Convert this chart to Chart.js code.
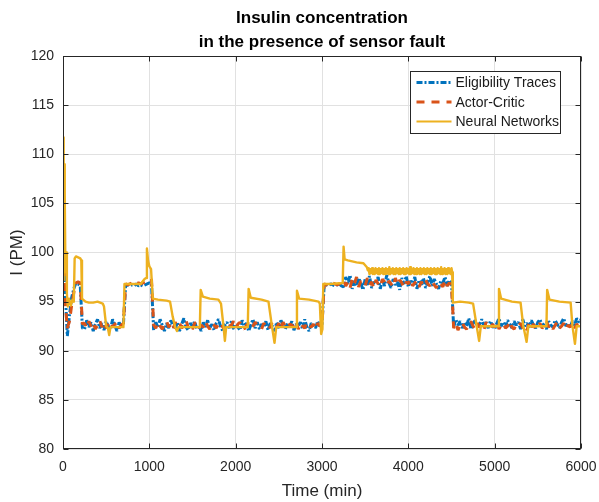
<!DOCTYPE html>
<html>
<head>
<meta charset="utf-8">
<title>Insulin concentration</title>
<script src="https://cdn.jsdelivr.net/npm/chart.js@4.4.0/dist/chart.umd.min.js"></script>
<style>
    html, body { margin: 0; padding: 0; background: #fff; }
    #wrap { width: 599px; height: 502px; }
</style>
</head>
<body>
<div id="wrap"><canvas id="insulin_chart" width="599" height="502"></canvas></div>
<script>
const chartTitle = ['Insulin concentration', 'in the presence of sensor fault'];
const xAxisTitle = 'Time (min)';
const yAxisTitle = 'I (PM)';
const xTickValues = [0, 1000, 2000, 3000, 4000, 5000, 6000];
const yTickValues = [80, 85, 90, 95, 100, 105, 110, 115, 120];
const seriesNames = ['Eligibility Traces', 'Actor-Critic', 'Neural Networks'];

// blue + orange are sampled every 25 min (0 .. 6000)
const sampleTime = [];
for (let i = 0; i <= 240; i++) sampleTime.push(i * 25);

const eligibilityTraces = [
    108.6, 96.2, 91.5, 93.6, 95.4, 96.3, 96.9, 96.8, 96.6, 92.3,
    92.2, 93.1, 92.4, 92.9, 92.0, 92.7, 93.2, 92.3, 92.8, 92.1, 93.0, 92.5, 92.2, 93.2, 92.6, 92.0, 92.9, 92.4,
    92.7,
    96.6, 96.7, 96.6, 96.7, 96.6, 96.8, 96.6, 96.7, 96.6, 96.7, 96.8, 96.9,
    96.8,
    92.1, 92.9, 92.4, 93.2, 92.6, 92.0, 92.8, 92.3, 93.1, 92.5,
    92.2, 92.9, 92.0, 92.7, 93.3, 92.4, 92.1, 92.8, 92.5, 93.0,
    92.2, 92.6, 92.0, 92.9, 92.4, 93.1, 92.3, 92.7, 92.1, 92.8,
    93.2, 92.5, 92.0, 92.6, 92.9, 92.3, 93.0, 92.2, 92.7, 92.4,
    92.1, 93.1, 92.5, 92.8, 92.0, 92.6, 93.2, 92.3, 92.9, 92.2,
    92.7, 92.4, 93.0, 92.1, 92.8, 92.5, 92.0, 92.9, 92.3, 93.1,
    92.6, 92.2, 92.8, 92.4, 93.0, 92.1, 92.7, 92.5, 92.9, 92.2,
    93.2, 92.4, 92.0, 92.8, 92.6, 92.3, 93.0, 92.5, 92.7,
    96.6, 96.7, 96.6, 96.8, 96.7, 96.6, 96.7, 96.8, 96.6,
    96.5, 97.5, 96.8, 97.7, 96.3, 97.1, 96.6, 97.4, 96.9, 96.2,
    97.3, 96.7, 97.6, 96.4, 97.0, 96.8, 97.5, 96.3, 97.2, 96.6,
    97.7, 96.9, 96.4, 97.3, 96.7, 97.0, 96.2, 97.4, 96.8, 97.6,
    96.5, 97.1, 96.9, 97.5, 96.3, 97.2, 96.7, 97.4, 96.4, 97.0,
    97.6, 96.6, 97.3, 96.8, 96.3, 97.1, 96.9, 97.5, 96.6, 97.2,
    96.9,
    92.4, 93.2, 92.6, 93.0, 92.3, 92.9, 92.5, 93.3, 92.2, 92.8,
    93.1, 92.4, 92.7, 93.2, 92.5, 92.9, 92.3, 93.0, 92.6, 92.2,
    92.8, 93.3, 92.5, 92.9, 92.4, 93.1, 92.7, 92.3, 93.0, 92.6,
    92.9, 92.2, 93.2, 92.5, 92.8, 92.4, 93.1, 92.6, 92.3, 92.9,
    93.2, 92.5, 92.8, 92.2, 93.0, 92.6, 92.4, 93.1, 92.7, 92.3,
    92.9, 93.3, 92.5, 92.8, 92.4, 93.0, 92.6, 93.3, 92.9, 93.2
];

const actorCritic = [
    109.1, 95.0, 92.3, 93.0, 94.6, 95.9, 96.9, 97.0, 96.9, 92.7,
    92.8, 92.3, 93.0, 92.5, 92.9, 92.2, 92.6, 93.1, 92.4, 92.9, 92.3, 92.8, 93.0, 92.4, 92.7, 92.9, 92.3, 92.6,
    92.8,
    96.8, 96.7, 96.8, 96.9, 96.7, 96.8, 96.9, 96.8, 96.9, 97.0, 97.1, 97.2,
    97.3,
    92.6, 92.3, 92.9, 92.5, 92.2, 92.8, 93.0, 92.4, 92.7, 92.2,
    92.9, 92.5, 92.8, 92.3, 92.6, 93.1, 92.4, 92.7, 92.2, 92.8,
    92.9, 92.3, 92.6, 92.4, 93.0, 92.5, 92.2, 92.8, 92.6, 92.3,
    92.7, 92.9, 92.4, 92.2, 92.8, 92.5, 92.6, 93.0, 92.3, 92.7,
    92.9, 92.4, 92.2, 92.6, 92.8, 92.3, 92.5, 92.9, 92.6, 92.4,
    92.2, 92.8, 92.5, 92.7, 92.3, 93.0, 92.6, 92.4, 92.8, 92.2,
    92.9, 92.5, 92.3, 92.7, 92.6, 92.4, 93.0, 92.2, 92.8, 92.5,
    92.3, 92.9, 92.6, 92.4, 92.7, 92.2, 92.8, 92.5, 92.6,
    96.8, 96.7, 96.8, 96.7, 96.9, 96.8, 96.7, 96.8, 96.9,
    97.2, 96.6, 97.0, 96.4, 97.3, 96.8, 97.5, 96.5, 97.1, 96.9,
    96.6, 97.4, 96.7, 97.0, 96.4, 97.2, 96.8, 96.5, 97.3, 97.0,
    96.6, 97.1, 96.8, 96.5, 97.4, 96.7, 97.2, 96.9, 96.4, 97.0,
    96.8, 97.3, 96.6, 96.9, 97.1, 96.5, 97.0, 96.7, 97.2, 96.8,
    96.6, 97.1, 96.7, 96.4, 97.0, 96.8, 96.5, 97.2, 96.6, 96.9,
    96.7,
    92.3, 92.8, 92.1, 92.6, 92.9, 92.4, 92.2, 92.7, 93.0, 92.5,
    92.2, 92.8, 92.4, 92.6, 92.1, 92.9, 92.5, 92.3, 92.7, 92.4,
    92.9, 92.2, 92.6, 92.8, 92.3, 92.5, 93.0, 92.4, 92.2, 92.7,
    92.5, 92.8, 92.3, 92.6, 92.1, 92.9, 92.4, 92.7, 92.2, 92.6,
    92.8, 92.3, 92.5, 93.0, 92.4, 92.7, 92.2, 92.6, 92.9, 92.3,
    92.5, 92.8, 92.2, 92.6, 92.4, 92.9, 92.3, 92.7, 92.5, 92.6
];

// neural network curve: its own (uneven) time points
const nnTime = [
    0, 5, 10, 14, 18, 22, 28, 35, 45, 55, 70, 90, 110, 125, 135, 150, 200, 212, 220, 260,
    300, 350, 400, 460, 475, 500, 520, 535, 550, 600, 700, 712, 800, 900, 945, 962, 972, 985, 1000, 1020,
    1040, 1100, 1200, 1240, 1270, 1300, 1320, 1340, 1500, 1585, 1595, 1620, 1700, 1800, 1830, 1860, 1875, 1890, 2000, 2140,
    2150, 2175, 2300, 2380, 2420, 2450, 2470, 2600, 2700, 2710, 2735, 2850, 2960, 2975, 2990, 3005, 3015, 3100, 3240, 3250,
    3262, 3300, 3400, 3480, 3520, 3530,
    3540, 3550, 3560, 3570, 3580, 3590, 3600, 3610, 3620, 3630,
    3640, 3650, 3660, 3670, 3680, 3690, 3700, 3710, 3720, 3730,
    3740, 3750, 3760, 3770, 3780, 3790, 3800, 3810, 3820, 3830,
    3840, 3850, 3860, 3870, 3880, 3890, 3900, 3910, 3920, 3930,
    3940, 3950, 3960, 3970, 3980, 3990, 4000, 4010, 4020, 4030,
    4040, 4050, 4060, 4070, 4080, 4090, 4100, 4110, 4120, 4130,
    4140, 4150, 4160, 4170, 4180, 4190, 4200, 4210, 4220, 4230,
    4240, 4250, 4260, 4270, 4280, 4290, 4300, 4310, 4320, 4330,
    4340, 4350, 4360, 4370, 4380, 4390, 4400, 4410, 4420, 4430,
    4440, 4450, 4460, 4470, 4480, 4490, 4500,
    4508, 4515, 4600, 4700, 4750, 4790, 4820, 4840, 5000, 5040, 5050, 5075, 5200, 5300, 5330, 5370, 5390,
    5500, 5600, 5608, 5635, 5750, 5880, 5900, 5930, 5950, 6000
];
const neuralNetworks = [
    97.2, 111.7, 104.0, 109.0, 101.0, 106.0, 98.0, 100.0, 95.8, 94.5, 95.3, 94.6, 95.2, 95.0, 99.4, 99.6, 99.4, 99.2, 95.3, 95.0,
    94.9, 94.9, 95.0, 94.8, 94.5, 92.5, 92.3, 91.6, 92.4, 92.4, 92.4, 96.8, 96.8, 96.8, 97.3, 97.4, 100.4, 99.2, 98.6, 98.3,
    95.3, 95.2, 95.1, 95.0, 93.5, 92.4, 92.0, 92.4, 92.4, 92.4, 96.2, 95.5, 95.3, 95.2, 94.8, 92.4, 91.0, 92.4, 92.4, 92.4,
    96.3, 95.4, 95.2, 95.0, 92.5, 90.8, 92.4, 92.4, 92.4, 96.1, 95.3, 95.2, 95.0, 94.8, 91.7, 92.2, 96.8, 96.8, 96.9, 100.6,
    99.3, 99.2, 99.0, 98.9, 98.5, 98.2,
    98.4, 97.8, 98.3, 97.9, 98.4, 97.8, 98.3, 97.8, 98.4, 97.9,
    98.3, 97.8, 98.4, 97.8, 98.3, 97.9, 98.4, 97.8, 98.3, 97.8,
    98.4, 97.9, 98.3, 97.8, 98.5, 97.8, 98.3, 97.9, 98.4, 97.8,
    98.3, 97.8, 98.4, 97.9, 98.3, 97.8, 98.4, 97.8, 98.3, 97.9,
    98.4, 97.8, 98.3, 97.8, 98.4, 97.9, 98.3, 97.8, 98.5, 97.8,
    98.3, 97.9, 98.4, 97.8, 98.3, 97.8, 98.4, 97.9, 98.3, 97.8,
    98.4, 97.8, 98.3, 97.9, 98.4, 97.8, 98.3, 97.8, 98.4, 97.9,
    98.3, 97.8, 98.4, 97.8, 98.3, 97.9, 98.4, 97.8, 98.3, 97.8,
    98.4, 97.9, 98.3, 97.8, 98.5, 97.8, 98.3, 97.9, 98.4, 97.8,
    98.3, 97.8, 98.4, 97.9, 98.3, 97.8, 98.4,
    98.0, 94.9, 95.0, 94.9, 94.8, 92.6, 91.0, 92.5, 92.5, 92.5, 96.3, 95.3, 95.0, 94.9, 92.6, 90.9, 92.5,
    92.5, 92.5, 96.2, 95.2, 95.0, 94.9, 92.6, 90.7, 92.5, 92.5
];

const FONT = '"Liberation Sans", Arial, Helvetica, sans-serif';
const AXIS_COLOR = '#262626';

function toPoints(xs, ys) {
    return xs.map((x, i) => ({x: x, y: ys[i]}));
}

// matlab-like decorations: title, box, inward ticks, legend
const matlabAxes = {
    id: 'matlabAxes',
    afterDraw(chart) {
        const ctx = chart.ctx;
        const a = chart.chartArea;
        const xs = chart.scales.x;
        const ys = chart.scales.y;
        const L = Math.round(a.left) + 0.5, R = Math.round(a.right) - 0.5;
        const T = Math.round(a.top) + 0.5, B = Math.round(a.bottom) - 0.5;
        ctx.save();

        // title
        ctx.fillStyle = '#000';
        ctx.font = 'bold 17px ' + FONT;
        ctx.textAlign = 'center';
        ctx.textBaseline = 'alphabetic';
        const cx = (a.left + a.right) / 2;
        ctx.fillText(chartTitle[0], cx, 23);
        ctx.fillText(chartTitle[1], cx, 47);

        // box
        ctx.strokeStyle = AXIS_COLOR;
        ctx.lineWidth = 1;
        ctx.strokeRect(L, T, R - L, B - T);

        // ticks pointing inward
        ctx.beginPath();
        xTickValues.forEach(v => {
            const px = Math.round(xs.getPixelForValue(v)) + 0.5;
            ctx.moveTo(px, B); ctx.lineTo(px, B - 5);
            ctx.moveTo(px, T); ctx.lineTo(px, T + 5);
        });
        yTickValues.forEach(v => {
            const py = Math.round(ys.getPixelForValue(v)) + 0.5;
            ctx.moveTo(L, py); ctx.lineTo(L + 5, py);
            ctx.moveTo(R, py); ctx.lineTo(R - 5, py);
        });
        ctx.stroke();

        // legend
        const lx = Math.round(a.right) - 170.5, ly = Math.round(a.top) + 15.5;
        const lw = 150, lh = 62;
        ctx.fillStyle = '#fff';
        ctx.fillRect(lx, ly, lw, lh);
        ctx.strokeStyle = AXIS_COLOR;
        ctx.strokeRect(lx, ly, lw, lh);
        ctx.font = '14px ' + FONT;
        ctx.textAlign = 'left';
        ctx.textBaseline = 'middle';
        chart.data.datasets.forEach((ds, i) => {
            const y = ly + 11 + i * 19.5;
            ctx.strokeStyle = ds.borderColor;
            ctx.lineWidth = ds.legendWidth;
            ctx.setLineDash(ds.borderDash || []);
            ctx.beginPath();
            ctx.moveTo(lx + 6, y);
            ctx.lineTo(lx + 41, y);
            ctx.stroke();
            ctx.setLineDash([]);
            ctx.fillStyle = '#1a1a1a';
            ctx.fillText(seriesNames[i], lx + 45, y + 1);
        });
        ctx.restore();
    }
};

const config = {
    type: 'line',
    data: {
        datasets: [
            {
                label: seriesNames[0], data: toPoints(sampleTime, eligibilityTraces),
                borderColor: '#0072BD', borderWidth: 3, borderDash: [6, 2, 2, 2], legendWidth: 3,
                borderJoinStyle: 'bevel', pointRadius: 0, tension: 0, order: 2
            },
            {
                label: seriesNames[1], data: toPoints(sampleTime, actorCritic),
                borderColor: '#D95319', borderWidth: 3, borderDash: [8, 7], legendWidth: 3,
                borderJoinStyle: 'bevel', pointRadius: 0, tension: 0, order: 1
            },
            {
                label: seriesNames[2], data: toPoints(nnTime, neuralNetworks),
                borderColor: '#EDB120', borderWidth: 2.4, legendWidth: 2,
                borderJoinStyle: 'round', pointRadius: 0, tension: 0, order: 0
            }
        ]
    },
    options: {
        responsive: false,
        animation: false,
        devicePixelRatio: 1,
        layout: { padding: { left: 0, right: 18, top: 56, bottom: 0 } },
        scales: {
            x: {
                type: 'linear', min: 0, max: 6000,
                afterBuildTicks: s => { s.ticks = xTickValues.map(v => ({value: v})); },
                afterFit: s => { s.height = 53; s.paddingLeft = 0; s.paddingRight = 0; },
                ticks: {
                    callback: v => String(v), color: AXIS_COLOR, padding: 10,
                    maxRotation: 0, autoSkip: false, font: { family: FONT, size: 14 }
                },
                grid: { color: '#e1e1e1', drawTicks: false },
                border: { display: false },
                title: {
                    display: true, text: xAxisTitle, color: AXIS_COLOR,
                    font: { family: FONT, size: 17 }, padding: { top: 4, bottom: 0 }
                }
            },
            y: {
                type: 'linear', min: 80, max: 120,
                afterBuildTicks: s => { s.ticks = yTickValues.map(v => ({value: v})); },
                afterFit: s => { s.width = 63; s.paddingTop = 0; s.paddingBottom = 0; },
                ticks: {
                    callback: v => String(v), color: AXIS_COLOR, padding: 9,
                    autoSkip: false, font: { family: FONT, size: 14 }
                },
                grid: { color: '#e1e1e1', drawTicks: false },
                border: { display: false },
                title: {
                    display: true, text: yAxisTitle, color: AXIS_COLOR,
                    font: { family: FONT, size: 17 }, padding: { top: 7, bottom: 0 }
                }
            }
        },
        plugins: {
            legend: { display: false },
            title: { display: false },
            tooltip: { enabled: false }
        }
    },
    plugins: [matlabAxes]
};

const myChart = new Chart(document.getElementById('insulin_chart'), config);
</script>
</body>
</html>
